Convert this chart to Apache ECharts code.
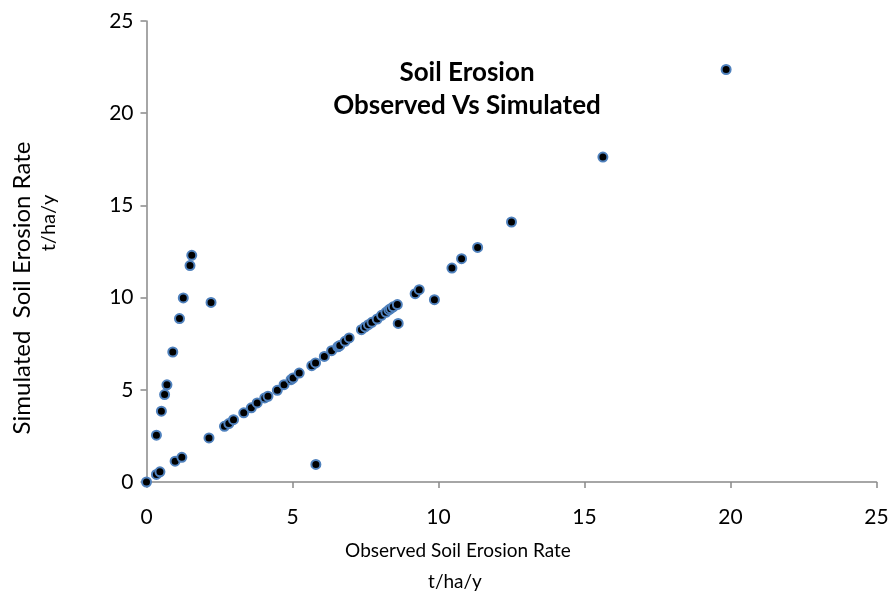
<!DOCTYPE html>
<html>
<head>
<meta charset="utf-8">
<script src="https://cdn.jsdelivr.net/npm/echarts@6/dist/echarts.min.js"></script>
<style>html,body{margin:0;padding:0;background:#fff;}#c{width:892px;height:602px;}</style>
</head>
<body>
<div id="c"></div>
<script>
var observed = [0, 0.34, 0.46, 0.98, 1.21, 0.34, 0.51, 0.62, 0.70, 0.90, 1.13, 1.26, 2.21, 1.49, 1.55,
  2.14, 2.67, 2.82, 2.98, 3.33, 3.59, 3.79, 4.05, 4.16, 4.48, 4.71, 4.95, 5.02, 5.23, 5.66, 5.79,
  6.09, 6.34, 6.55, 6.58, 6.62, 6.80, 6.94, 7.36, 7.49, 7.60, 7.72, 7.90, 8.05, 8.20, 8.30, 8.36, 8.45, 8.59,
  8.62, 9.20, 9.34, 9.86, 10.46, 10.79, 11.34, 12.50, 15.63, 19.85, 5.80];
var simulated = [0, 0.41, 0.55, 1.13, 1.34, 2.54, 3.84, 4.74, 5.27, 7.05, 8.86, 9.98, 9.74, 11.74, 12.29,
  2.39, 3.02, 3.17, 3.38, 3.75, 4.02, 4.29, 4.56, 4.65, 4.97, 5.28, 5.55, 5.64, 5.91, 6.31, 6.46,
  6.81, 7.12, 7.33, 7.36, 7.40, 7.63, 7.81, 8.26, 8.41, 8.53, 8.66, 8.84, 9.04, 9.20, 9.33, 9.40, 9.50, 9.62,
  8.60, 10.21, 10.43, 9.89, 11.60, 12.11, 12.72, 14.10, 17.62, 22.37, 0.95];
var xTicks = [0, 5, 10, 15, 20, 25];
var yTicks = [0, 5, 10, 15, 20, 25];
var titleLines = ['Soil Erosion', 'Observed Vs Simulated'];
var xNameLines = ['Observed Soil Erosion Rate', 't/ha/y'];
var yNameLines = ['Simulated  Soil Erosion Rate', 't/ha/y'];

var pts = observed.map(function (v, i) { return [v, simulated[i]]; });
var FONT = 'Lato';
var axisLineStyle = { color: '#898989', width: 1.5 };

var chart = echarts.init(document.getElementById('c'), null, { renderer: 'canvas' });
chart.setOption({
  backgroundColor: '#fff',
  animation: false,
  title: {
    text: titleLines.join('\n'),
    left: 462, top: 51, textAlign: 'center',
    textStyle: { fontFamily: FONT, fontWeight: 'bold', fontSize: 26, lineHeight: 33, color: '#000' }
  },
  grid: { left: 146.5, right: 15.5, top: 21, bottom: 120, containLabel: false },
  xAxis: {
    type: 'value', min: xTicks[0], max: xTicks[xTicks.length - 1], interval: 5,
    axisLine: { show: true, lineStyle: axisLineStyle },
    axisTick: { show: true, inside: false, length: 6, lineStyle: axisLineStyle },
    splitLine: { show: false },
    axisLabel: { fontFamily: FONT, fontSize: 21, color: '#000', margin: 25 }
  },
  yAxis: {
    type: 'value', min: yTicks[0], max: yTicks[yTicks.length - 1], interval: 5,
    axisLine: { show: true, onZero: false, lineStyle: axisLineStyle },
    axisTick: { show: true, inside: false, length: 6, lineStyle: axisLineStyle },
    splitLine: { show: false },
    axisLabel: { fontFamily: FONT, fontSize: 21, color: '#000', margin: 13 }
  },
  graphic: [
    { type: 'text', x: 458, y: 551, style: { text: xNameLines[0], font: '19px ' + FONT, fill: '#000', align: 'center', verticalAlign: 'middle' } },
    { type: 'text', x: 455, y: 582, style: { text: xNameLines[1], font: '19px ' + FONT, fill: '#000', align: 'center', verticalAlign: 'middle' } },
    { type: 'text', x: 22, y: 288, rotation: Math.PI / 2, style: { text: yNameLines[0], font: '24px ' + FONT, fill: '#000', align: 'center', verticalAlign: 'middle' } },
    { type: 'text', x: 49, y: 223, rotation: Math.PI / 2, style: { text: yNameLines[1], font: '20px ' + FONT, fill: '#000', align: 'center', verticalAlign: 'middle' } }
  ],
  series: [{
    type: 'scatter',
    data: pts,
    symbol: 'circle',
    symbolSize: 9,
    itemStyle: { color: '#000', borderColor: '#4f81bd', borderWidth: 2, opacity: 1 }
  }]
});
</script>
</body>
</html>
